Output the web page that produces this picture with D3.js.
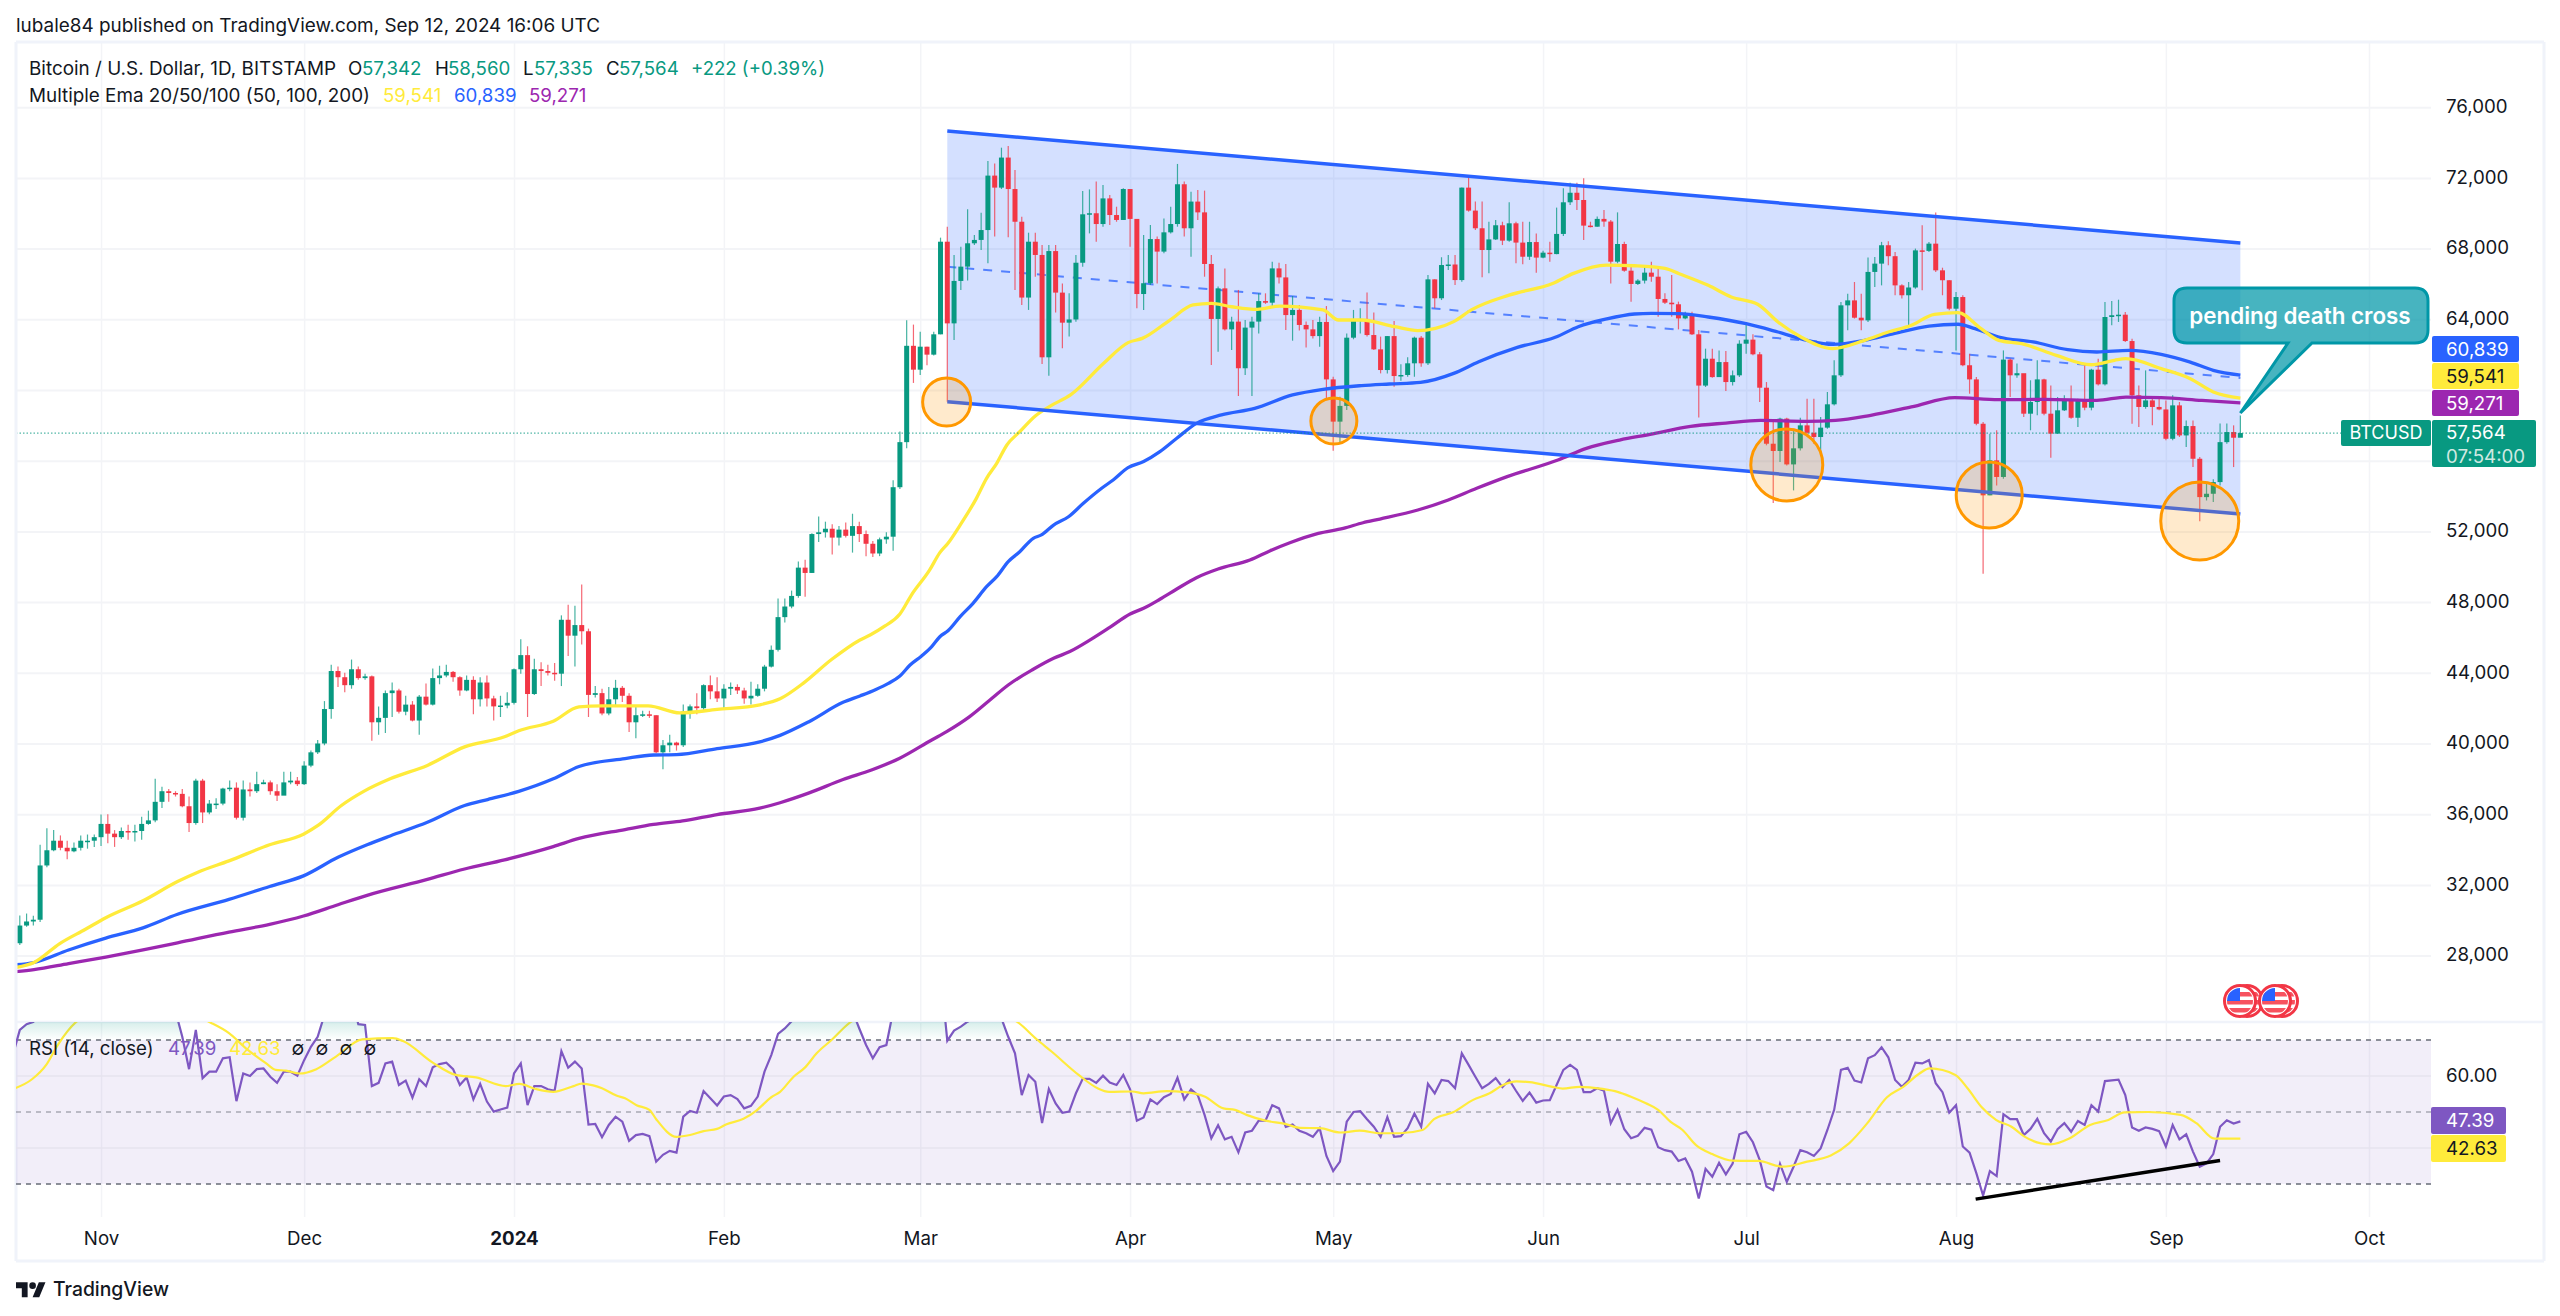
<!DOCTYPE html>
<html><head><meta charset="utf-8">
<script src="https://cdn.jsdelivr.net/npm/d3@7/dist/d3.min.js"></script>
<style>html,body{margin:0;background:#fff}svg{display:block;font-family:Inter,"Noto Sans",sans-serif}</style>
</head><body><svg id="c" width="2560" height="1316"></svg>
<script>
// All candle values in thousands of USD, one entry per day starting 2023-10-20.
const firstOpen = 28.7;
const closes = [
29.7,29.93,30.03,33.1,33.96,34.5,34.1,33.9,34.1,34.5,
34.5,34.7,35.45,34.9,34.7,35.05,35.0,35.05,35.45,35.65,
36.7,37.3,37.2,37.15,36.45,35.5,37.9,36.1,36.6,36.6,
37.45,37.5,35.8,37.4,37.3,37.7,37.8,37.3,37.05,37.8,
37.9,37.7,38.75,39.5,40,41.95,44.1,43.75,43.3,44.2,
43.7,43.8,41.2,41.45,42.85,43.0,41.8,42.2,41.3,42.65,
42.2,43.7,43.85,44.05,43.75,43.0,43.6,42.5,43.45,42.55,
42.1,42.15,42.3,44.2,45,42.8,44.2,44.1,44.0,43.95,
47.0,46.1,46.7,46.35,42.75,42.85,41.7,42.5,43.15,42.7,
41.2,41.6,41.65,41.6,39.5,39.9,40.05,39.9,41.8,42.1,
42.0,43.3,42.95,42.55,43.1,43.2,43.0,42.55,42.7,43.1,
44.35,45.3,47.15,47.75,48.35,49.95,49.65,51.85,51.95,52.15,
51.65,52.1,51.75,52.3,51.85,51.3,50.75,51.55,51.7,54.5,
57.05,62.5,61.15,62.45,62.0,63.15,68.39,63.77,66.17,66.98,
68.3,68.49,69.05,72.13,71.45,73.15,71.37,69.52,65.23,68.39,
67.64,61.85,67.86,65.51,63.81,63.99,67.2,69.94,70.0,69.39,
70.84,69.9,69.62,71.37,69.68,65.43,66.04,68.54,67.83,68.92,
69.39,71.64,69.15,70.66,70.05,67.13,64.02,65.75,63.43,63.87,
61.23,63.53,63.87,65.03,64.94,66.88,66.37,64.24,64.53,63.68,
63.43,63.05,63.85,60.6,58.21,59.1,62.96,63.9,64.02,63.11,
62.3,61.13,63.05,60.79,60.85,61.51,62.96,61.51,66.26,65.19,
67.07,67.1,66.22,71.45,70.15,69.15,67.92,68.52,69.32,68.45,
69.43,68.34,67.54,68.37,67.49,67.77,67.69,68.83,70.62,71.16,
70.75,69.3,69.24,69.68,69.53,67.26,68.26,66.75,66.0,66.19,
66.64,66.41,65.15,64.94,64.85,64.05,64.3,63.15,60.25,61.77,
60.73,61.58,60.45,60.83,62.62,62.85,62.02,60.13,56.96,56.55,
58.38,55.79,56.7,58.0,57.58,57.34,57.87,59.19,60.83,64.79,
65.07,64.09,63.94,66.68,67.15,68.19,67.57,65.92,65.36,65.8,
67.9,67.87,68.28,66.77,66.21,64.6,65.26,61.4,60.6,58.09,
54.04,56.02,55.08,61.72,60.83,60.95,58.66,59.32,60.6,58.66,
57.53,58.85,59.41,58.43,59.45,59.0,61.15,60.32,64.13,64.23,
64.26,62.77,59.7,59.04,59.41,59.04,58.9,57.24,59.13,57.43,
57.96,56.11,53.94,54.13,54.79,57.05,57.62,57.3,57.564];
const highs = [
30.27,30.38,30.25,34.27,35.2,35.1,34.8,34.5,34.4,34.8,
34.85,34.85,35.98,36.0,35.1,35.25,35.4,35.4,35.85,36.2,
38.0,37.55,37.43,37.3,37.43,37.0,38.0,38.0,36.8,36.9,
37.5,37.9,37.8,37.9,37.8,38.4,37.95,37.9,37.7,38.4,
38.4,38.1,39.0,39.6,40.2,42.4,44.45,44.35,44.0,44.75,
44.35,43.95,43.85,42.1,43.0,43.45,43.1,42.7,42.4,42.75,
43.4,44.25,44.4,44.45,44.1,43.8,43.85,43.8,43.75,43.85,
42.7,42.7,42.9,44.25,45.9,45.5,44.8,44.6,44.45,44.55,
47.25,47.85,47.8,49.0,46.5,43.25,43.1,43.2,43.6,43.25,
42.85,42.1,41.85,41.85,41.6,40.2,40.5,40.1,42.2,42.2,
42.85,43.35,43.85,43.75,43.35,43.45,43.35,43.15,43.5,43.35,
44.45,45.55,48.2,48.2,48.65,50.3,50.4,51.9,52.85,52.55,
52.4,52.3,52.5,53.0,52.55,52.05,51.45,51.65,51.95,54.9,
57.65,63.95,63.7,63.3,62.45,63.3,68.62,69.24,67.64,68.11,
70.22,68.77,70.03,72.96,72.82,73.71,73.8,72.45,69.8,68.9,
68.9,68.2,68.2,68.2,66.03,65.47,67.64,71.26,71.35,71.79,
71.6,71.03,70.37,71.41,71.37,69.68,68.77,69.34,68.68,69.71,
70.37,72.79,71.79,71.22,71.32,71.28,67.64,65.85,66.88,64.15,
65.66,63.96,64.15,65.47,65.47,67.26,67.2,67.13,65.32,64.81,
63.87,63.96,64.15,64.75,60.75,59.62,63.2,64.53,64.62,65.51,
64.38,63.02,63.05,63.9,61.45,61.85,63.02,63.05,66.51,66.26,
67.51,67.64,67.64,71.45,72.03,70.66,70.66,69.52,69.62,69.52,
70.62,69.52,69.52,69.52,68.86,67.88,68.39,70.32,71.41,71.73,
71.73,71.98,69.52,69.81,70.18,69.62,70.05,68.39,66.98,66.26,
66.98,67.26,66.98,65.47,66.51,65.0,64.43,64.43,63.4,62.34,
62.34,62.24,62.2,61.11,62.81,63.75,63.15,62.15,60.45,58.28,
58.43,58.43,57.8,58.43,59.5,59.5,58.47,59.89,61.68,64.98,
65.45,66.11,65.45,67.49,67.53,68.38,68.41,67.81,65.98,66.11,
68.0,69.32,68.38,70.04,66.92,66.21,65.55,65.36,62.05,60.73,
58.19,57.53,57.72,62.24,61.78,61.5,60.9,60.55,61.68,60.64,
60.26,59.6,59.7,60.26,59.5,61.4,61.2,61.77,64.98,65.04,
65.11,64.41,62.9,60.26,61.11,59.6,59.6,59.41,59.7,59.32,
58.28,58.28,56.21,54.79,54.95,58.1,58.1,58.0,58.56];
const lows = [
28.6,29.63,29.7,29.9,33.0,33.9,33.96,33.45,33.85,33.95,
34.05,34.15,34.2,34.35,34.15,34.6,34.55,34.45,34.55,35.4,
35.55,36.35,36.7,37.0,36.4,35.0,35.4,35.5,36.0,36.3,
36.5,37.3,35.7,35.65,37.0,37.2,37.7,37.1,36.75,37.2,
37.7,37.6,37.65,38.65,39.4,39.9,41.4,43.2,42.9,43.1,
43.6,43.6,40.15,40.5,40.6,41.5,41.7,41.6,41.25,40.5,
42.15,42.15,43.35,43.75,43.5,42.7,42.95,41.65,42.1,42.1,
41.3,41.5,42.0,42.2,43.95,41.5,42.75,43.25,43.85,43.55,
43.25,44.95,44.35,45.6,41.5,42.6,41.6,41.6,42.1,42.35,
40.65,40.3,41.5,41.45,39.45,38.55,39.5,39.6,39.8,41.4,
41.65,41.8,42.5,42.35,41.9,42.75,42.8,42.25,42.2,42.65,
42.95,44.3,45.2,46.85,47.65,48.25,48.3,49.65,51.4,51.65,
50.7,51.2,51.65,50.8,51.4,50.6,50.55,50.6,51.3,50.9,
54.4,56.7,60.4,60.85,61.4,61.95,63.15,59.34,62.83,65.66,
66.2,68.2,67.92,67.17,68.68,71.37,68.64,65.66,64.81,64.53,
66.41,61.47,60.81,64.38,62.36,63.02,63.86,66.98,68.86,68.39,
69.24,69.34,69.52,69.62,68.11,64.62,64.53,65.94,66.03,67.73,
68.86,69.24,68.68,67.54,69.62,66.41,61.41,62.17,63.36,62.26,
59.66,60.85,59.66,63.2,64.87,64.68,66.03,63.39,62.79,63.36,
62.41,62.92,62.45,59.43,56.57,56.94,58.87,62.87,63.2,63.02,
62.26,60.94,60.94,60.19,60.53,60.75,60.75,61.32,61.41,64.62,
65.09,66.79,65.94,66.13,70.09,69.05,66.38,66.6,68.49,68.2,
68.39,67.17,67.11,67.36,66.64,67.45,67.26,67.68,68.71,70.47,
70.18,68.49,69.2,69.24,69.24,66.03,67.17,66.69,65.0,65.94,
66.03,66.13,64.15,64.87,64.15,63.43,64.0,63.11,58.45,60.17,
60.7,60.73,59.94,60.26,60.73,62.05,61.96,59.32,56.87,53.6,
55.93,55.73,54.32,56.58,57.53,56.96,56.49,57.81,59.13,60.73,
63.38,64.04,63.38,63.85,65.83,65.92,67.06,65.36,65.17,63.66,
65.73,65.64,67.81,66.68,65.36,64.51,62.24,61.34,59.79,58.0,
49.6,54.04,54.6,54.98,59.6,60.7,58.47,57.72,58.57,58.57,
56.17,57.53,58.81,58.38,57.9,58.85,58.85,60.26,60.26,63.66,
63.85,62.72,58.09,57.9,58.94,58.0,58.85,57.15,57.15,57.34,
56.77,55.64,52.58,53.75,53.66,54.6,56.96,55.64,57.34];

// EMA readings: day offset from 2023-10-20, value in thousands of USD.
const ema50Days = [-1,2.1,5.9,9.7,12.7,18.2,23.3,26.3,30.9,36.9,41.9,44.1,47.5,50.8,54.7,60.2,65.7,71.6,73.7,78.8,82.6,86,92.8,97.5,103,109.3,112.3,115.7,119.9,124.1,125.6,127.8,130,131.7,134.4,135.9,137.1,138.9,141.3,142.8,144.3,145.8,147.7,150,152.2,155.2,160.1,163.7,165.8,169.9,173.3,176,179,182.8,186.1,192.5,194.8,198.2,203.1,206.5,209.1,211.8,214.4,220.1,226.5,229.5,234.4,238.5,243,245.1,249.4,252.8,256.7,259.7,263.1,267.8,272.5,276,279.4,282.8,286.3,289.7,292.3,295.7,300.8,306,309.4,311.1,316.3,320.6,324,328];
const ema50Vals = [27.3,27.61,28.68,29.49,30.14,31.1,32.19,32.72,33.36,34.27,34.87,35.38,36.49,37.29,38,38.76,39.81,40.38,40.72,41.26,42.07,42.13,42.13,41.73,41.93,42.19,42.53,43.4,44.75,45.86,46.14,46.65,47.33,48.4,49.82,50.8,51.33,52.36,53.87,55,55.85,56.89,57.64,58.53,59.09,59.72,61.51,62.68,62.92,63.96,64.81,64.9,64.71,64.56,64.75,64.53,63.96,63.96,63.58,63.36,63.49,63.87,64.53,65.38,66.04,66.6,67.07,67.03,66.88,66.58,65.92,65.26,64.85,63.85,63,62.34,62.81,63.28,63.66,64.28,64.38,63.47,62.81,62.62,61.96,61.43,61.68,61.77,61.21,60.64,59.89,59.54];
const ema100Days = [-1,2.1,7.2,12.7,18.2,23.3,30.9,36.9,41.9,47,51.3,54.7,60.2,65.7,69.1,73.7,78.8,82.6,89.4,93.6,97,103,109.3,112.3,116.5,121.6,124.1,126.3,128.3,130,131.5,133.2,134.7,135.9,137.1,138.9,140.8,142.8,144.3,146,147.7,149.7,150.9,152.7,154.9,157.1,159.8,161.5,163.7,166,168.4,170.9,173.8,177.5,182.4,188,192.5,198.2,202.3,206.9,211.8,215.5,221.2,226.8,230.2,234.4,238.5,241,245.1,249.4,255,259.7,264,267.8,272.5,276.8,282,286.3,288.8,292.3,297.4,302.5,306.8,311.6,316.3,320.6,324,328];
const ema100Vals = [27.48,27.61,28.32,28.99,29.57,30.34,31.18,31.91,32.51,33.56,34.27,34.77,35.54,36.49,36.83,37.29,38,38.7,39.15,39.35,39.37,39.71,40.09,40.46,41.22,42.33,42.69,43.03,43.4,43.82,44.44,44.95,45.48,46.04,46.38,47.18,47.93,48.87,49.44,50.29,50.85,51.61,51.8,52.36,52.83,53.59,54.44,54.91,55.61,55.95,56.51,57.27,58.11,58.59,58.96,59.72,60.04,60.25,60.34,60.43,60.94,61.6,62.41,62.98,63.58,64.02,64.3,64.34,64.32,64.13,63.75,63.28,62.81,62.58,62.81,63.19,63.62,63.72,63.47,63,62.72,62.28,62.15,62.24,62.02,61.58,61.11,60.84];
const ema200Days = [-1,2.1,7.2,12.7,18.2,23.3,30.9,36.9,41.9,47,51.3,60.2,65.7,71.6,78.8,82.6,89.4,93.6,97.9,103,109.3,112.3,116.5,121.6,125.8,129.9,134.7,136.9,140.3,143.3,146,149.7,152.7,155.1,158.1,161,164,166,168.4,170.9,173.8,177,181.7,184.7,187.6,191.8,195.5,198.4,200.9,206.5,211,215.2,219.7,227.2,231.4,236.3,240.8,246.8,252,257.1,264,268.2,273.4,279.4,285.8,292.3,299.1,306.8,311.1,316.3,322.3,328];
const ema200Vals = [27.08,27.21,27.55,27.92,28.32,28.72,29.33,29.77,30.24,30.88,31.41,32.31,32.9,33.42,34.17,34.63,35.13,35.42,35.62,35.98,36.34,36.65,37.19,37.96,38.5,39.15,40.2,40.67,41.52,42.46,43.31,44.2,44.82,45.2,45.86,46.57,47.33,47.65,48.16,48.74,49.38,49.87,50.38,50.91,51.36,51.89,52.17,52.49,52.7,53.21,53.78,54.44,55.1,56.04,56.7,57.17,57.49,57.94,58.13,58.28,58.23,58.28,58.57,59.04,59.57,59.45,59.47,59.41,59.6,59.57,59.41,59.27];

// RSI(14): one value per day starting 2023-10-19. Values above 75 leave the pane in the picture.
const rsi = [66,
72.8,74.4,75,84,85,86,83,81,81,82,
82,82,84,81,79,78,78,79,79,80,
80,82,84,78,70.9,61.9,72.8,59.4,61.2,61.2,
64.9,65.2,53,60.7,60,61.9,62.1,59.8,58.1,61.2,
61.2,60.1,64.4,68.1,70.9,77,80,84,85,82,
74.4,74.2,57.2,58.1,63.5,64,57.5,58.7,54,59.1,
57.2,62.4,63.3,63.7,61.9,57.5,59.6,53.5,57.8,52.9,
50.1,50.7,51.2,60.7,63.5,51.9,57.2,57.2,56.3,55.9,
66.9,62.3,64,62.1,46.5,46.7,43,46.4,48.7,47.3,
42,43.6,43.9,43.3,36.2,38.1,39.2,38.7,48.7,50.3,
49.8,55.8,53.8,51.8,54.3,54.7,53.6,51,51.7,54.3,
61.2,65.8,71.7,73.2,75.2,78,79,80,80,82,
80,82,80,78,73.2,68.6,64.9,68,68.6,78,
80,85,87,88,89,88,89,69.8,72.6,73.7,
75.1,76,78,78,79,76,70.9,66.3,54.7,60.3,
58.4,46.9,56.4,52.4,49.8,50.1,55.2,59.2,59.2,58.1,
60.1,58.2,57.5,60.3,56.3,47.6,48.5,53.5,52.2,54.1,
55,59.5,53.5,56.3,54.7,49.2,42.7,46.3,42.4,43.1,
38.8,44.3,44.8,47.6,47.6,51.9,51,45.9,46.5,44.8,
44.1,43.1,45.5,37.8,33.6,36.2,47.3,50,50.2,48,
45.9,43.1,48.6,43.1,43.3,45.5,49.6,45.9,57.8,55.2,
58.9,58.6,56.6,66.3,63.1,59.8,56.6,57.8,59.4,56.9,
58.9,55.9,53.1,55.4,52.6,53.2,53.3,57.5,61.7,63.1,
61.7,55.5,55.5,56.6,55.9,46.9,50.6,45.2,42.7,43.4,
45.6,45.1,40.2,39.4,39,36.4,37.1,33.4,26,34.2,
32,35.9,32.7,35.7,43.8,44.5,41.6,36.7,29.3,28.3,
35.6,30.6,34.8,39.4,38.8,37.8,39.9,45,50.6,61.7,
62.3,58.7,58.2,64.9,65.8,68,65.2,58.9,57,58.9,
63.7,63.5,64.4,58,55.5,49.8,51.9,40.4,38.7,33,
26.8,33.6,32.2,49.4,48,48,43.6,45.3,48.1,44.1,
41.8,45.2,46.9,44.5,47.5,46.4,51.9,50.1,58.6,58.8,
59,54.7,45.7,44.8,45.7,45.3,44.7,40.4,46.4,42.4,
43.8,39,34.8,35.7,38.3,45.9,47.7,46.8,47.39];
const rsiMaDays = [-1,1.8,3.9,5.6,8.2,12,18,24,28.2,30.9,33.4,36.4,37.8,39.3,41.3,43.8,46.7,50.6,55.1,56.6,61,64.4,67.4,71.8,73.8,76.2,78.8,81.8,83,84.7,86,88.2,89.4,91.1,93,94,97,99,101,103,104.4,106.9,108.8,111,112.3,114.3,116,117.7,119.9,122.6,126,132,138,144,147.5,150.2,152.4,156.4,159.2,160.9,164.3,166,169.4,172.2,175,177.8,179.5,181.2,184,186.9,189.1,192,195.1,197.9,201,203.8,207.2,208.9,211.7,214.6,217.1,219.1,221.1,223,226.4,227.9,230.4,233.8,236,237.9,240.2,242,243.8,245.6,247.6,250,253,256.8,260.4,264,267.5,270.2,272.9,275.8,278.2,280.6,282.1,285.9,287.7,289.8,291.9,294.2,296,299.9,302.8,305.8,308.5,310.9,314.4,319.2,321.5,324.2,328];
const rsiMaVals = [56.4,59.1,63.1,68.6,74.8,78,79,78,74.8,71.9,67.7,63.5,61.7,61.5,60.7,61.9,65.4,70.2,70.5,69.7,63.7,60.3,59.6,57.2,57.8,56.4,55.6,57.2,57.9,57.4,56.6,54.5,53.8,51.9,50.6,48,43.1,43.6,44.7,45.3,46.6,48.1,50.4,54.1,55.6,59.8,62.4,66.3,70,74.8,78,80,79,78,74.8,70.2,66.8,60.3,56.6,55.6,55.7,55.2,55.8,55.5,54.3,51,50.6,49.2,47.6,46.7,45.6,45.5,44.3,44.8,44.1,44.1,45,48,49.9,53.3,55.2,57.5,58.5,58.3,57,56.5,57,56.4,55.6,54.3,52.4,50.6,47.3,45,40.8,38.3,36.5,36.4,34.8,36.2,37.9,41.3,46.9,54.1,57,60.7,62.1,60.3,56.6,51.3,47.8,45.9,43.3,41,42.7,46.4,47.8,49.9,50,49.2,46.9,42.6,42.63];

// Channel drawing anchors (thousands of USD).
const channelDays = [137, 328];
const channelTop = [74.65, 68.32];
const channelMid = [66.98, 60.68];
const channelBottom = [59.34, 52.98];
const circleDays = [136.9,194.1,261,290.9,322];
const circlePrices = [59.32,58.25,55.76,54.06,52.59];
const circleRadii = [24,23,36,33,39];
const trendDays = [288.9,325], trendRsi = [25.8,36.5];
const priceGrid = [28,32,36,40,44,48,52,56,60,64,68,72,76];
const priceLabels = [28,32,36,40,44,48,52,64,68,72,76];
const months = ["2023-11-01","2023-12-01","2024-01-01","2024-02-01","2024-03-01","2024-04-01","2024-05-01","2024-06-01","2024-07-01","2024-08-01","2024-09-01","2024-10-01"];
const monthLabels = ["Nov","Dec","2024","Feb","Mar","Apr","May","Jun","Jul","Aug","Sep","Oct"];
const headline = "lubale84 published on TradingView.com, Sep 12, 2024 16:06 UTC";
const calloutText = "pending death cross";

const UP="#089981",DOWN="#f23645",YEL="#ffeb3b",BLU="#2962ff",PUR="#9c27b0",RSI="#7e57c2",INK="#131722";
const L=16,R=2431,RB=2544,T=42,PANE=1022,AXT=1217,B=1261,PX=2446;
const t0=Date.UTC(2023,9,20), DAY=864e5;
const dayDate=d=>new Date(t0+d*DAY);
const x=d3.scaleUtc().domain([dayDate(0),new Date(Date.UTC(2024,9,1))]).range([19.8,2369]);
const X=d=>x(dayDate(d));
const y=d3.scaleLinear().domain([28,76]).range([955.6,107.2]);
const yR=d3.scaleLinear().domain([30,70]).range([1184,1040]);
const svg=d3.select("#c");
const defs=svg.append("defs");
defs.append("clipPath").attr("id","cp").append("rect").attr("x",L).attr("y",T).attr("width",R-L).attr("height",PANE-T);
defs.append("clipPath").attr("id","cr").append("rect").attr("x",L).attr("y",PANE).attr("width",R-L).attr("height",AXT-PANE);
defs.append("clipPath").attr("id","c70").append("rect").attr("x",L).attr("y",PANE).attr("width",R-L).attr("height",yR(70)-PANE);
defs.append("clipPath").attr("id","flag").append("circle").attr("r",13);
const g1=defs.append("linearGradient").attr("id","gOver").attr("gradientUnits","userSpaceOnUse").attr("x1",0).attr("x2",0).attr("y1",PANE).attr("y2",yR(70));
g1.append("stop").attr("offset",0).attr("stop-color",UP).attr("stop-opacity",.16);
g1.append("stop").attr("offset",1).attr("stop-color",UP).attr("stop-opacity",0);

const monthDates=months.map(m=>new Date(m+"T00:00:00Z"));
// grids
const gridV=svg.append("g").attr("transform",`translate(0,${AXT})`).call(d3.axisBottom(x).tickValues(monthDates).tickSize(-(AXT-T)).tickFormat(""));
gridV.select(".domain").remove();gridV.selectAll("line").attr("stroke","#f3f4f7").attr("stroke-width",1.5);
const gridH=svg.append("g").attr("transform",`translate(${L},0)`).call(d3.axisRight(y).tickValues(priceGrid).tickSize(R-L).tickFormat(""));
gridH.select(".domain").remove();gridH.selectAll("line").attr("stroke","#f3f4f7").attr("stroke-width",2);

// channel
const main=svg.append("g").attr("clip-path","url(#cp)");
const chanLine=d3.line().x((v,i)=>X(channelDays[i])).y(v=>y(v));
main.append("path").attr("d",d3.area().x((v,i)=>X(channelDays[i])).y0((v,i)=>y(channelBottom[i])).y1(v=>y(v))(channelTop)).attr("fill",BLU).attr("fill-opacity",.2);
main.append("path").attr("d",chanLine(channelMid)).attr("stroke",BLU).attr("stroke-width",2).attr("stroke-opacity",.75).attr("stroke-dasharray","9 9").attr("fill","none");
// candles
const opens=closes.map((c,i)=>i?closes[i-1]:firstOpen);
const cg=main.append("g");
cg.selectAll("line").data(closes).join("line").attr("x1",(c,i)=>X(i)).attr("x2",(c,i)=>X(i)).attr("y1",(c,i)=>y(highs[i])).attr("y2",(c,i)=>y(lows[i])).attr("stroke-width",1.2).attr("stroke-opacity",.75).attr("stroke",(c,i)=>c>=opens[i]?UP:DOWN);
cg.selectAll("rect").data(closes).join("rect").attr("x",(c,i)=>X(i)-2.5).attr("width",5).attr("y",(c,i)=>y(Math.max(c,opens[i]))).attr("height",(c,i)=>Math.max(1.5,Math.abs(y(c)-y(opens[i])))).attr("fill",(c,i)=>c>=opens[i]?UP:DOWN);
// EMA
const drawEma=(days,vals,col)=>main.append("path").attr("d",d3.line().x((v,i)=>X(days[i])).y(v=>y(v)).curve(d3.curveMonotoneX)(vals)).attr("fill","none").attr("stroke",col).attr("stroke-width",3.3);
drawEma(ema200Days,ema200Vals,PUR);drawEma(ema100Days,ema100Vals,BLU);drawEma(ema50Days,ema50Vals,YEL);
// channel edges
main.append("path").attr("d",chanLine(channelTop)).attr("stroke",BLU).attr("stroke-width",3.5).attr("fill","none");
main.append("path").attr("d",chanLine(channelBottom)).attr("stroke",BLU).attr("stroke-width",3.5).attr("fill","none");
// last price line
main.append("line").attr("x1",L).attr("x2",R).attr("y1",y(57.564)).attr("y2",y(57.564)).attr("stroke",UP).attr("stroke-opacity",.7).attr("stroke-width",1.3).attr("stroke-dasharray","1.5 2");
// circles
main.selectAll("circle").data(circleDays).join("circle").attr("cx",d=>X(d)).attr("cy",(d,i)=>y(circlePrices[i])).attr("r",(d,i)=>circleRadii[i]).attr("fill","#ff9800").attr("fill-opacity",.2).attr("stroke","#ff9800").attr("stroke-width",3);

// callout
const tipX=X(328),tipY=413,cx0=2174,cx1=2428,cy0=288,cy1=343,rr=13;
svg.append("path").attr("d",`M${cx0+rr},${cy0}H${cx1-rr}Q${cx1},${cy0} ${cx1},${cy0+rr}V${cy1-rr}Q${cx1},${cy1} ${cx1-rr},${cy1}H2312L${tipX},${tipY}L2288,${cy1}H${cx0+rr}Q${cx0},${cy1} ${cx0},${cy1-rr}V${cy0+rr}Q${cx0},${cy0} ${cx0+rr},${cy0}Z`).attr("fill","#0097a7").attr("fill-opacity",.72).attr("stroke","#0097a7").attr("stroke-width",3);
svg.append("text").attr("x",2300).attr("y",316).attr("dy",".35em").attr("text-anchor","middle").attr("fill","#fff").attr("font-size",22.4).attr("font-weight",600).text(calloutText);

// events
const flagIcon=(cx)=>{[[cx+7],[cx]].forEach(([c])=>{
 const g=svg.append("g").attr("transform",`translate(${c},1001)`);
 g.append("circle").attr("r",15.5).attr("fill","#fff").attr("stroke",DOWN).attr("stroke-width",3);
 const f=g.append("g").attr("clip-path","url(#flag)");
 [-9,-1,7].forEach(s=>f.append("rect").attr("x",-14).attr("y",s).attr("width",28).attr("height",4.5).attr("fill","#f7525f"));
 f.append("rect").attr("x",-14).attr("y",-14).attr("width",14).attr("height",14).attr("fill","#2962ff");
});};
flagIcon(2240);flagIcon(2275);

// pane separators and frame
const sep=(x1,y1,x2,y2,w=3)=>svg.append("line").attr("x1",x1).attr("y1",y1).attr("x2",x2).attr("y2",y2).attr("stroke","#f0f3fa").attr("stroke-width",w);
sep(L,PANE,RB,PANE,2.5);sep(L,T,RB,T);sep(L,B,RB,B);sep(L,T,L,B);sep(RB,T,RB,B);

// RSI pane
const rp=svg.append("g");
rp.append("rect").attr("x",L).attr("width",R-L).attr("y",yR(70)).attr("height",yR(30)-yR(70)).attr("fill",RSI).attr("fill-opacity",.1);
[40,60].forEach(v=>rp.append("line").attr("x1",L).attr("x2",R).attr("y1",yR(v)).attr("y2",yR(v)).attr("stroke","#e6e3ee").attr("stroke-width",1.5));
[[70,.85],[30,.85],[50,.45]].forEach(([v,o])=>rp.append("line").attr("x1",L).attr("x2",R).attr("y1",yR(v)).attr("y2",yR(v)).attr("stroke","#787b86").attr("stroke-opacity",o).attr("stroke-width",2).attr("stroke-dasharray","5 5"));
const rpc=rp.append("g").attr("clip-path","url(#cr)");
const rsiX=(v,i)=>X(i-1);
rp.append("g").attr("clip-path","url(#c70)").append("path").attr("d",d3.area().x(rsiX).y0(yR(70)).y1(v=>yR(v))(rsi)).attr("fill","url(#gOver)");
rpc.append("path").attr("d",d3.line().x(rsiX).y(v=>yR(v))(rsi)).attr("fill","none").attr("stroke",RSI).attr("stroke-width",2.2);
rpc.append("path").attr("d",d3.line().x((v,i)=>X(rsiMaDays[i])).y(v=>yR(v)).curve(d3.curveMonotoneX)(rsiMaVals)).attr("fill","none").attr("stroke",YEL).attr("stroke-width",2.2);
rpc.append("path").attr("d",d3.line().x((v,i)=>X(trendDays[i])).y(v=>yR(v))(trendRsi)).attr("fill","none").attr("stroke","#000").attr("stroke-width",3.5);

// axes
const FS=18.7;
const ax=svg.append("g").attr("transform",`translate(0,${AXT})`).call(d3.axisBottom(x).tickValues(monthDates).tickSize(0).tickPadding(15).tickFormat((d,i)=>monthLabels[i]));
ax.select(".domain").remove();ax.selectAll("text").attr("font-size",FS).attr("font-family","Inter").attr("fill",INK).attr("font-weight",(d,i)=>monthLabels[i]==="2024"?700:400);
const ay=svg.append("g").attr("transform",`translate(${PX},0)`).call(d3.axisRight(y).tickValues(priceLabels).tickSize(0).tickPadding(0).tickFormat(v=>d3.format(",")(v*1000)));
ay.select(".domain").remove();ay.selectAll("text").attr("font-size",FS).attr("font-family","Inter").attr("fill",INK).attr("dy",".28em");
const ayR=svg.append("g").attr("transform",`translate(${PX},0)`).call(d3.axisRight(yR).tickValues([60]).tickSize(0).tickPadding(0).tickFormat(d3.format(".2f")));
ayR.select(".domain").remove();ayR.selectAll("text").attr("font-size",FS).attr("font-family","Inter").attr("fill",INK);

// price tags
const tag=(x0,x1,y0,y1,fill,txt,col,ty)=>{svg.append("rect").attr("x",x0).attr("y",y0).attr("width",x1-x0).attr("height",y1-y0).attr("rx",2).attr("fill",fill);
 svg.append("text").attr("x",PX).attr("y",ty??(y0+y1)/2).attr("dy",".36em").attr("font-size",FS).attr("fill",col).text(txt);};
tag(2432,2519,336,362,BLU,"60,839","#fff");
tag(2432,2519,363,389,YEL,"59,541",INK);
tag(2432,2519,390,416,PUR,"59,271","#fff");
tag(2432,2536,420,467,UP,"57,564","#fff",432);
svg.append("text").attr("x",PX).attr("y",456).attr("dy",".36em").attr("font-size",FS).attr("fill","#cfe9e1").text("07:54:00");
svg.append("rect").attr("x",2341).attr("y",420).attr("width",90).attr("height",26).attr("rx",2).attr("fill",UP);
svg.append("text").attr("x",2386).attr("y",433).attr("dy",".36em").attr("text-anchor","middle").attr("font-size",18).attr("fill","#fff").text("BTCUSD");
tag(2431,2506,1107,1134,RSI,"47.39","#fff");
tag(2431,2506,1135,1162,YEL,"42.63",INK);

// header & legends
const txt=(s,xp,yp,col,fs=FS,w=400,len)=>{const t=svg.append("text").attr("x",xp).attr("y",yp).attr("dy",".36em").attr("fill",col).attr("font-size",fs).attr("font-weight",w).text(s);
 if(len)t.attr("textLength",len).attr("lengthAdjust","spacingAndGlyphs");return t;};
txt(headline,16,25,INK,FS,400,584);
txt("Bitcoin / U.S. Dollar, 1D, BITSTAMP",29,68,INK,FS,400,307);
[["O",348,"57,342",362],["H",435,"58,560",448],["L",523,"57,335",534],["C",606,"57,564",619]].forEach(([a,ax1,b,bx])=>{txt(a,ax1,68,INK);txt(b,bx,68,UP);});
txt("+222 (+0.39%)",691,68,UP,FS,400,134);
txt("Multiple Ema 20/50/100 (50, 100, 200)",29,95,INK,FS,400,341);
txt("59,541",383,95,YEL);txt("60,839",454,95,BLU);txt("59,271",529,95,PUR);
txt("RSI (14, close)",29,1048,INK);txt("47.39",168,1048,RSI);txt("42.63",229,1048,YEL);
[298,322,346,370].forEach(c=>svg.append("text").attr("x",c).attr("y",1048).attr("dy",".36em").attr("text-anchor","middle").attr("font-size",FS).attr("fill",INK).text("∅"));
// logo
const lg=svg.append("g").attr("transform","translate(16,1279) scale(.83)").attr("fill",INK);
lg.append("path").attr("d","M14 22H7V11H0V4h14v18zM28 22h-8l7.5-18h8L28 22z");lg.append("circle").attr("cx",20).attr("cy",8).attr("r",4);
txt("TradingView",53,1289,INK,20,500,116);
</script></body></html>
